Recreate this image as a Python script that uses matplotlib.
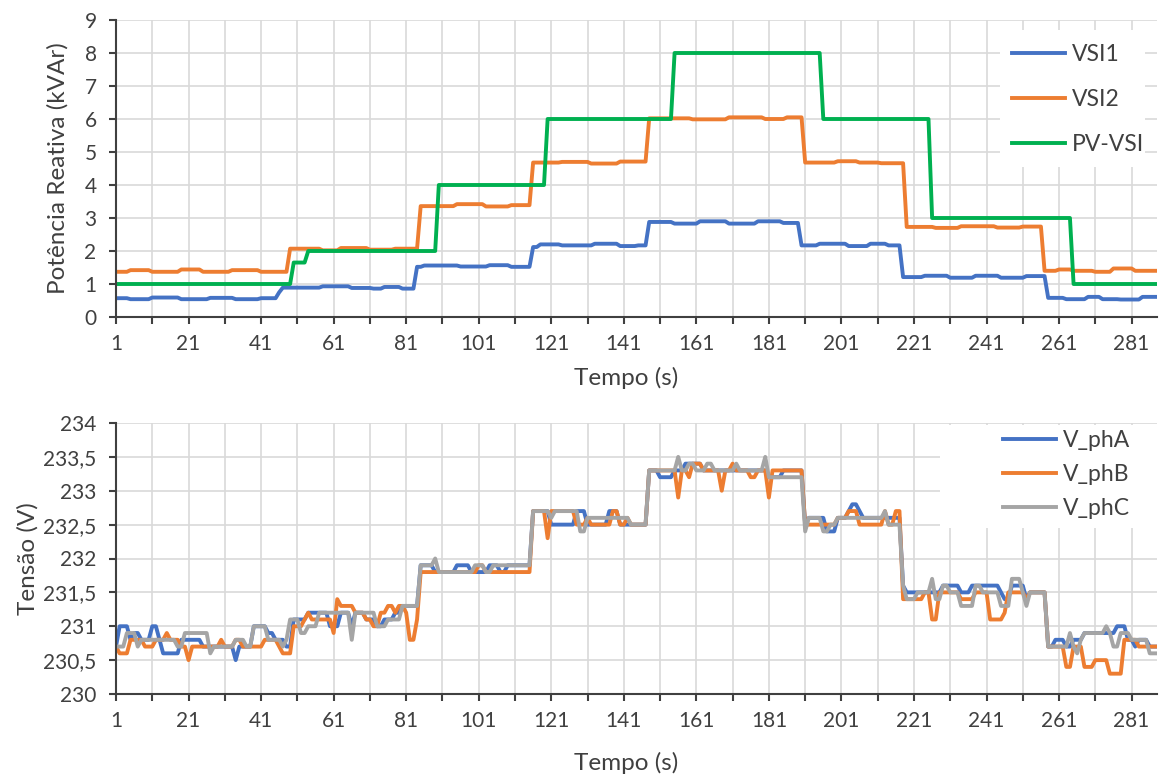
import numpy as np
import matplotlib
matplotlib.use('Agg')
import matplotlib.pyplot as plt
from matplotlib.patches import Rectangle

plt.rcParams['font.family'] = ['Lato', 'DejaVu Sans']

# time axis (s)
t = np.arange(1, 289)

# top chart: reactive power (kVAr), given as (start second, level) steps
vsi1_start = [1, 5, 11, 19, 27, 34, 41, 46, 47, 58, 66, 72, 75, 80, 84, 86, 96, 104, 110,
              116, 118, 124, 133, 140, 145, 148, 155, 162, 170, 178, 185, 190, 195, 203, 209,
              214, 218, 224, 231, 238, 245, 252, 258, 263, 269, 273, 278, 284]
vsi1_level = [0.57, 0.54, 0.59, 0.54, 0.58, 0.54, 0.57, 0.75, 0.89, 0.93, 0.88, 0.86, 0.91,
              0.86, 1.52, 1.56, 1.53, 1.57, 1.52, 2.12, 2.2, 2.17, 2.22, 2.15, 2.17, 2.88,
              2.83, 2.9, 2.83, 2.9, 2.85, 2.17, 2.22, 2.15, 2.22, 2.17, 1.21, 1.25, 1.19,
              1.25, 1.19, 1.24, 0.58, 0.54, 0.61, 0.54, 0.53, 0.61]

vsi2_start = [1, 5, 11, 19, 25, 33, 41, 49, 58, 63, 71, 78, 85, 95, 103, 110, 116, 124, 132,
              140, 148, 160, 170, 180, 186, 191, 200, 206, 212, 219, 227, 234, 244, 251, 257,
              261, 265, 271, 276, 282]
vsi2_level = [1.37, 1.42, 1.37, 1.44, 1.37, 1.42, 1.37, 2.07, 2.02, 2.09, 2.04, 2.07, 3.36,
              3.42, 3.35, 3.39, 4.68, 4.70, 4.65, 4.71, 6.02, 5.99, 6.05, 6.0, 6.05, 4.68,
              4.72, 4.68, 4.66, 2.73, 2.70, 2.75, 2.71, 2.74, 1.40, 1.44, 1.40, 1.37, 1.47,
              1.40]

pv_start = [1, 50, 54, 90, 120, 155, 196, 226, 265]
pv_level = [1, 1.65, 2, 4, 6, 8, 6, 3, 1]

# bottom chart: phase voltages (V)
pha_start = [1, 2, 5, 6, 8, 11, 13, 14, 19, 25, 34, 35, 39, 43, 45, 48, 50, 54, 60, 63, 66,
             67, 70, 73, 75, 78, 80, 85, 89, 95, 99, 104, 107, 109, 116, 121, 128, 131, 137,
             140, 148, 151, 155, 158, 163, 181, 185, 191, 192, 197, 200, 203, 204, 206, 207,
             218, 219, 229, 234, 237, 245, 246, 248, 252, 253, 258, 260, 263, 265, 268, 277,
             280, 282, 283, 286]
pha_level = [230.7, 231.0, 230.8, 230.9, 230.8, 231.0, 230.8, 230.6, 230.8, 230.7, 230.5,
             230.7, 231.0, 230.9, 230.8, 230.7, 231.1, 231.2, 231.0, 231.2, 231.0, 231.2,
             231.1, 231.0, 231.1, 231.2, 231.3, 231.9, 231.8, 231.9, 231.8, 231.9, 231.8,
             231.9, 232.7, 232.5, 232.7, 232.5, 232.7, 232.5, 233.3, 233.2, 233.3, 233.4,
             233.3, 233.2, 233.3, 232.5, 232.6, 232.4, 232.6, 232.7, 232.8, 232.7, 232.6,
             231.6, 231.5, 231.6, 231.5, 231.6, 231.5, 231.4, 231.6, 231.4, 231.5, 230.7,
             230.8, 230.7, 230.8, 230.9, 231.0, 230.8, 230.7, 230.8, 230.7]

phb_start = [1, 2, 5, 9, 12, 15, 16, 19, 21, 22, 30, 31, 34, 36, 42, 46, 47, 50, 53, 54, 55,
             61, 62, 63, 67, 70, 72, 74, 76, 78, 79, 81, 82, 84, 85, 101, 103, 116, 120, 121,
             128, 131, 132, 138, 140, 142, 143, 148, 156, 157, 159, 160, 163, 168, 169, 171,
             172, 176, 178, 181, 182, 191, 200, 203, 206, 213, 214, 216, 218, 224, 226, 228,
             234, 238, 242, 246, 247, 252, 253, 258, 263, 265, 268, 271, 275, 279, 283]
phb_level = [230.7, 230.6, 230.8, 230.7, 230.8, 230.9, 230.8, 230.7, 230.5, 230.7, 230.8,
             230.7, 230.8, 230.7, 230.8, 230.7, 230.6, 231.0, 231.1, 231.2, 231.1, 230.9,
             231.4, 231.3, 231.2, 231.1, 231.0, 231.2, 231.3, 231.2, 231.3, 231.2, 230.8,
             231.1, 231.8, 231.9, 231.8, 232.7, 232.3, 232.7, 232.5, 232.6, 232.5, 232.7,
             232.5, 232.6, 232.5, 233.3, 232.9, 233.3, 233.2, 233.4, 233.3, 233.0, 233.3,
             233.4, 233.3, 233.2, 233.3, 232.9, 233.3, 232.5, 232.6, 232.7, 232.5, 232.7,
             232.5, 232.7, 231.4, 231.5, 231.1, 231.5, 231.4, 231.5, 231.1, 231.2, 231.5,
             231.4, 231.5, 230.7, 230.4, 230.7, 230.4, 230.5, 230.3, 230.8, 230.7]

phc_start = [1, 4, 7, 8, 18, 20, 27, 28, 34, 37, 39, 43, 47, 48, 49, 52, 54, 57, 66, 67, 73,
             76, 80, 85, 89, 90, 100, 103, 105, 116, 121, 122, 129, 131, 143, 148, 156, 157,
             159, 161, 164, 166, 172, 173, 180, 181, 191, 192, 196, 198, 200, 213, 214, 218,
             219, 222, 226, 227, 229, 231, 234, 238, 240, 245, 248, 251, 252, 253, 258, 264,
             265, 266, 267, 268, 274, 275, 276, 278, 281, 286]
phc_level = [230.7, 230.9, 230.7, 230.8, 230.7, 230.9, 230.6, 230.7, 230.8, 230.7, 231.0,
             230.8, 230.7, 230.8, 231.1, 230.9, 231.0, 231.2, 230.8, 231.2, 231.0, 231.1,
             231.3, 231.9, 232.0, 231.8, 231.9, 231.8, 231.9, 232.7, 232.6, 232.7, 232.4,
             232.6, 232.5, 233.3, 233.5, 233.3, 233.4, 233.3, 233.4, 233.3, 233.4, 233.3,
             233.5, 233.2, 232.4, 232.6, 232.4, 232.5, 232.6, 232.7, 232.5, 231.6, 231.4,
             231.5, 231.7, 231.4, 231.6, 231.5, 231.3, 231.6, 231.5, 231.3, 231.7, 231.5,
             231.3, 231.5, 230.7, 230.9, 230.7, 230.6, 230.8, 230.9, 231.0, 230.9, 230.7,
             230.9, 230.8, 230.6]

volt_ticks = [230, 230.5, 231, 231.5, 232, 232.5, 233, 233.5, 234]

TXT = '#404040'
TICK_FS = 15
LABEL_FS = 17.5
LEG_FS = 16.5


def steps(starts, levels):
    idx = np.searchsorted(starts, t, side='right') - 1
    return np.array(levels)[idx]


def style(ax):
    ax.set_xlim(1, 288)
    xt = list(range(1, 289, 10))
    ax.set_xticks(xt)
    ax.set_xticklabels([str(v) if (v - 1) % 20 == 0 else '' for v in xt])
    ax.grid(True, color='#d9d9d9', lw=1.2)
    ax.set_axisbelow(True)
    for s in ['top', 'right']:
        ax.spines[s].set_visible(False)
    for s in ['left', 'bottom']:
        ax.spines[s].set_color(TXT)
        ax.spines[s].set_linewidth(1.5)
    ax.tick_params(direction='out', length=5, width=1.5, color=TXT,
                   labelcolor=TXT, labelsize=TICK_FS)
    ax.tick_params(axis='x', pad=7)
    ax.tick_params(axis='y', pad=9)


def legend_box(ax, x0, y0, x1, y1):
    # white panel behind the legend, hides the grid like the spreadsheet legend does
    ax.add_patch(Rectangle((x0, y0), x1 - x0, y1 - y0, transform=ax.transAxes,
                           facecolor='white', edgecolor='none', zorder=1))


fig = plt.figure(figsize=(11.59, 7.76), dpi=100)
W, H = 1159, 776
ax1 = fig.add_axes([116 / W, 1 - 317 / H, (1157 - 116) / W, (317 - 20) / H])
ax2 = fig.add_axes([116 / W, 1 - 694 / H, (1157 - 116) / W, (694 - 423) / H])

lw = 2.8
ax1.plot(t, steps(vsi1_start, vsi1_level), color='#4472c4', lw=lw, label='VSI1')
ax1.plot(t, steps(vsi2_start, vsi2_level), color='#ed7d31', lw=lw, label='VSI2')
ax1.plot(t, steps(pv_start, pv_level), color='#00b050', lw=lw, label='PV-VSI')
style(ax1)
ax1.set_ylim(0, 9)
ax1.set_yticks(range(0, 10))
ax1.set_xlabel('Tempo (s)', fontsize=LABEL_FS, color=TXT, va='center')
ax1.xaxis.set_label_coords(0.49, -0.205)
ax1.set_ylabel('Potência Reativa (kVAr)', fontsize=LABEL_FS, color=TXT, va='center')
ax1.yaxis.set_label_coords(-0.0557, 0.5)
legend_box(ax1, 0.849, 0.505, 0.9885, 0.966)
leg1 = ax1.legend(loc='upper left', bbox_to_anchor=(0.8607, 0.92), frameon=False,
                  handlelength=2.3, labelspacing=1.05, fontsize=LEG_FS, borderpad=0,
                  handletextpad=0.3, borderaxespad=0)
for tx in leg1.get_texts():
    tx.set_color(TXT)

ax2.plot(t, steps(pha_start, pha_level), color='#4472c4', lw=lw, label='V_phA')
ax2.plot(t, steps(phb_start, phb_level), color='#ed7d31', lw=lw, label='V_phB')
ax2.plot(t, steps(phc_start, phc_level), color='#a5a5a5', lw=lw, label='V_phC')
style(ax2)
ax2.set_ylim(230, 234)
ax2.set_yticks(volt_ticks)
ax2.set_yticklabels([('%g' % v).replace('.', ',') for v in volt_ticks])
ax2.set_xlabel('Tempo (s)', fontsize=LABEL_FS, color=TXT, va='center')
ax2.xaxis.set_label_coords(0.49, -0.2546)
ax2.set_ylabel('Tensão (V)', fontsize=LABEL_FS, color=TXT, va='center')
ax2.yaxis.set_label_coords(-0.0845, 0.5)
legend_box(ax2, 0.7915, 0.6125, 1.0, 0.993)
leg2 = ax2.legend(loc='upper left', bbox_to_anchor=(0.852, 0.975), frameon=False,
                  handlelength=2.3, labelspacing=0.58, fontsize=LEG_FS, borderpad=0,
                  handletextpad=0.3, borderaxespad=0)
for tx in leg2.get_texts():
    tx.set_color(TXT)

fig.savefig('out.png', dpi=100)
